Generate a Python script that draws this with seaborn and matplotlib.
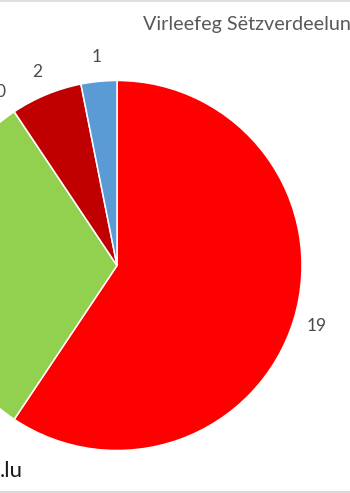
import matplotlib
matplotlib.use("Agg")
import matplotlib.pyplot as plt
from matplotlib.lines import Line2D
import seaborn as sns

# Data (clockwise from 12 o'clock)
parties = ["A", "B", "C", "D", "E"]
seats = [19, 10, 0, 2, 1]
labels = ["19", "10", "0", "2", "1"]
colors = ["#FF0000", "#92D050", "#7F7F7F", "#C00000", "#5B9BD5"]
title = "Virleefeg Sëtzverdeelung"
source = ".lu"

sns.set_theme(style="white")
plt.rcParams["font.family"] = ["Lato", "DejaVu Sans"]

W, H = 350, 493
DPI = 100
fig = plt.figure(figsize=(W / DPI, H / DPI), dpi=DPI)
ax = fig.add_axes([0, 0, 1, 1])

cx, cy, R = 117.0, 265.5, 185.0  # pixel geometry of the pie

wedges, texts = ax.pie(
    seats,
    labels=labels,
    colors=colors,
    startangle=90,
    counterclock=False,
    radius=1.0,
    labeldistance=1.13,
    wedgeprops=dict(edgecolor="white", linewidth=1.1),
    textprops=dict(color="#4a4a4a", fontsize=12.5),
)
for t in texts:
    t.set_ha("center")
    t.set_va("center")

ax.set_aspect("auto")
ax.set_xlim(-cx / R, (W - cx) / R)
ax.set_ylim(-(H - cy) / R, cy / R)
ax.axis("off")

fig.text(143 / W, 1 - 30 / H, title, ha="left", va="baseline",
         fontsize=14.2, color="#595959")
fig.text(0 / W, 1 - 477 / H, source, ha="left", va="baseline",
         fontsize=16, color="#1a1a1a")

fig.add_artist(Line2D([0, 1], [1 - 0.5 / H, 1 - 0.5 / H], color="#d9d9d9", lw=1.2))
fig.add_artist(Line2D([0, 1], [1 - 491.5 / H, 1 - 491.5 / H], color="#d9d9d9", lw=1.5))

fig.savefig("out.png", dpi=DPI)
